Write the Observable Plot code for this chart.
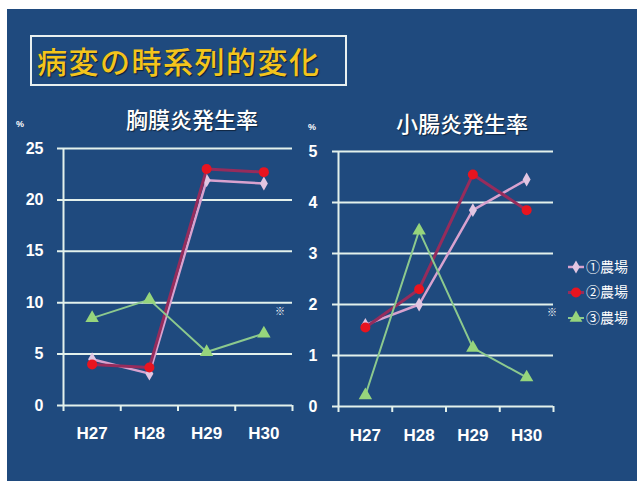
<!DOCTYPE html>
<html>
<head>
<meta charset="utf-8">
<script src="https://cdn.jsdelivr.net/npm/d3@7"></script>
<script src="https://cdn.jsdelivr.net/npm/@observablehq/plot@0.6"></script>
<style>
  html, body { margin: 0; padding: 0; background: #fff; }
  #page { position: relative; width: 638px; height: 481px; overflow: hidden; background: #fff;
          font-family: "Noto Sans CJK JP", "Liberation Sans", sans-serif; }
  #panel { position: absolute; left: 7px; top: 9px; width: 630px; height: 472px; background: #1f4a7e; }
  #title { position: absolute; left: 30px; top: 35px; width: 317px; height: 51px; box-sizing: border-box;
           border: 2px solid #e8f0f0; color: #f4c41c; font-size: 30px; font-weight: 500; line-height: 46px;
           padding-left: 5px; letter-spacing: 1.5px; text-shadow: 1px 1px 1px rgba(0,0,0,0.6); white-space: nowrap; }
  .sub { position: absolute; color: #fff; font-size: 22px; font-weight: 500; white-space: nowrap;
         transform: translate(-50%, -50%); text-shadow: 1px 1px 1px rgba(0,0,0,0.5); }
  .unit { position: absolute; color: #fff; font-size: 9px; font-weight: bold; transform: translate(-50%, -50%);
          font-family: "Liberation Sans", sans-serif; }
  .note { position: absolute; color: #fff; font-size: 10px; font-weight: bold; transform: translate(-50%, -50%); }
  .plot { position: absolute; top: 90px; }
  #legend { position: absolute; left: 0; top: 0; }
</style>
</head>
<body>
<div id="page">
  <div id="panel"></div>
  <div id="title">病変の時系列的変化</div>
  <div class="sub" style="left:192px; top:118px;">胸膜炎発生率</div>
  <div class="sub" style="left:462px; top:122px;">小腸炎発生率</div>
  <div class="unit" style="left:20px; top:124px;">%</div>
  <div class="unit" style="left:312px; top:127px;">%</div>
  <div class="note" style="left:280px; top:310px;">※</div>
  <div class="note" style="left:552px; top:311px;">※</div>
  <div id="left" class="plot" style="left:0px;"></div>
  <div id="right" class="plot" style="left:300px;"></div>
</div>
<script>
// Fiscal years (Heisei era) on the category axis
const years = ["H27", "H28", "H29", "H30"];
const farms = ["①農場", "②農場", "③農場"];

// Pleuritis incidence (%) per farm
const pleuritisFarm1 = [4.5, 3.1, 21.9, 21.6];
const pleuritisFarm2 = [4.0, 3.7, 23.0, 22.7];
const pleuritisFarm3 = [8.5, 10.3, 5.2, 7.0];
const pleuritisTicks = [0, 5, 10, 15, 20, 25];

// Enteritis incidence (%) per farm
const enteritisFarm1 = [1.6, 2.0, 3.85, 4.45];
const enteritisFarm2 = [1.55, 2.3, 4.55, 3.85];
const enteritisFarm3 = [0.22, 3.45, 1.15, 0.57];
const enteritisTicks = [0, 1, 2, 3, 4, 5];

const gridColor = "#e3f1ec";
const farmStyles = [
  {line: "#d8a2cf", lineWidth: 2.5, dot: "#e2c6e2", symbol: "diamond", r: 4.2},
  {line: "#962c5c", lineWidth: 3, dot: "#e8141f", symbol: "circle", r: 5},
  {line: "#8cc98e", lineWidth: 2, dot: "#96d57c", symbol: "triangle", r: 5}
];

function rowsFrom(series) {
  const rows = [];
  series.forEach((vals, s) => vals.forEach((v, i) => rows.push({x: i + 0.5, farm: farms[s], value: v})));
  return rows;
}

function chart({series, ticks, width, height, marginLeft, marginRight, marginTop, marginBottom, yPad, xPad}) {
  const rows = rowsFrom(series);
  const seriesMarks = [];
  farms.forEach((f, s) => {
    const st = farmStyles[s];
    const data = rows.filter(d => d.farm === f);
    seriesMarks.push(Plot.line(data, {x: "x", y: "value", stroke: st.line, strokeWidth: st.lineWidth}));
    seriesMarks.push(Plot.dot(data, {x: "x", y: "value", symbol: st.symbol, r: st.r, fill: st.dot, stroke: "none"}));
  });
  return Plot.plot({
    width, height, marginLeft, marginRight, marginTop, marginBottom,
    style: {background: "transparent", color: "#fff", fontFamily: "'Liberation Sans', Arial, sans-serif", overflow: "visible"},
    x: {domain: [0, years.length], axis: null, label: null},
    y: {domain: [0, d3.max(ticks)], axis: null, label: null},
    marks: [
      Plot.ruleY(ticks, {stroke: gridColor, strokeWidth: 2, insetLeft: -6}),
      Plot.ruleX([0], {stroke: gridColor, strokeWidth: 2}),
      Plot.axisX(d3.range(years.length + 1), {tickFormat: () => "", tickSize: 6, stroke: gridColor, strokeWidth: 2, label: null}),
      Plot.axisX(years.map((_, i) => i + 0.5), {tickFormat: v => years[Math.floor(v)], tickSize: 0, tickPadding: xPad,
        fontSize: 17, fontWeight: "bold", fill: "#fff", label: null}),
      Plot.axisY(ticks, {tickFormat: v => String(v), tickSize: 0, tickPadding: yPad, fontSize: 16, fontWeight: "bold", fill: "#fff", label: null}),
      ...seriesMarks
    ]
  });
}

document.getElementById("left").append(chart({
  series: [pleuritisFarm1, pleuritisFarm2, pleuritisFarm3], ticks: pleuritisTicks,
  width: 310, height: 370, marginLeft: 63, marginRight: 18, marginTop: 58, marginBottom: 55, yPad: 20, xPad: 21
}));

document.getElementById("right").append(chart({
  series: [enteritisFarm1, enteritisFarm2, enteritisFarm3], ticks: enteritisTicks,
  width: 280, height: 370, marginLeft: 38, marginRight: 27, marginTop: 61, marginBottom: 54, yPad: 21, xPad: 22
}));

// Legend: line sample with marker, then farm name
const legend = d3.select("#page").append("svg").attr("id", "legend").attr("width", 638).attr("height", 481);
const symbolTypes = {diamond: d3.symbolDiamond, circle: d3.symbolCircle, triangle: d3.symbolTriangle};
farms.forEach((f, s) => {
  const st = farmStyles[s];
  const y = 267 + s * 25.5;
  const g = legend.append("g");
  g.append("line").attr("x1", 568).attr("x2", 584).attr("y1", y).attr("y2", y)
    .attr("stroke", st.line).attr("stroke-width", st.lineWidth);
  g.append("path").attr("transform", `translate(576,${y})`)
    .attr("d", d3.symbol(symbolTypes[st.symbol], Math.PI * st.r * st.r * (st.symbol === "circle" ? 1 : 0.9))())
    .attr("fill", st.dot);
  g.append("text").attr("x", 586).attr("y", y).attr("dy", "0.35em").attr("fill", "#fff")
    .attr("font-size", 14).attr("font-family", "'Noto Sans CJK JP', sans-serif").text(f);
});
</script>
</body>
</html>
